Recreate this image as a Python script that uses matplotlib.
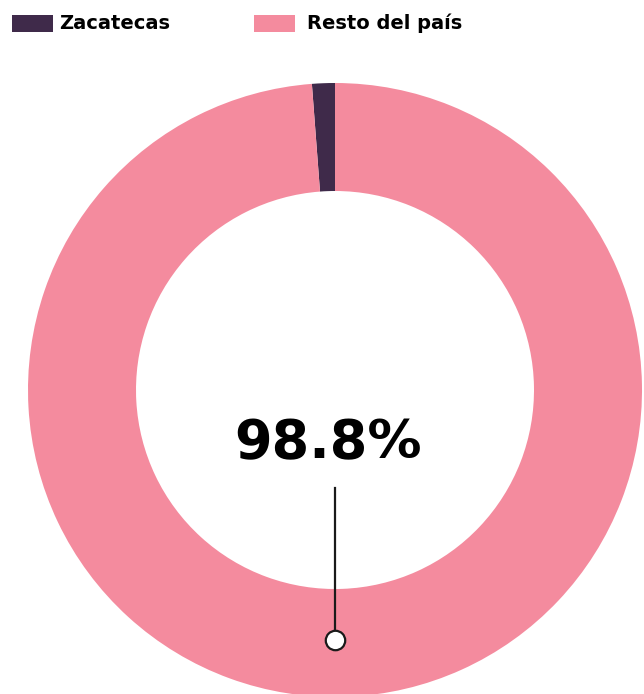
import matplotlib.pyplot as plt
from matplotlib.patches import Rectangle

# Datos
categorias = ["Zacatecas", "Resto del país"]
valores = [1.2, 98.8]
colores = ["#3F2A4A", "#F48B9E"]
etiqueta = "98.8%"

W, H = 644, 694
fig = plt.figure(figsize=(W / 100, H / 100), dpi=100)
ax = fig.add_axes([0, 0, 1, 1])

# Dona (coordenadas en píxeles, y hacia arriba)
ax.pie(valores, colors=colores, startangle=90, counterclock=True,
       center=(335, H - 390), radius=307,
       wedgeprops=dict(width=108, linewidth=0))

ax.set_xlim(0, W)
ax.set_ylim(0, H)
ax.set_aspect("auto")
ax.axis("off")

fuente = ["DejaVu Sans"]

# Etiqueta central y línea
ax.text(328, H - 443, etiqueta, ha="center", va="center", fontsize=39,
        fontweight="bold", family=fuente, color="black")
ax.plot([335, 335], [H - 488, H - 632], color="#1a1a1a", lw=1.6)
ax.plot([335], [H - 640], marker="o", markersize=14, markerfacecolor="white",
        markeredgecolor="#1a1a1a", markeredgewidth=1.6)

# Leyenda
pos_leyenda = [12, 254]
pos_texto = [59, 307]
for x0, xt, cat, col in zip(pos_leyenda, pos_texto, categorias, colores):
    ax.add_patch(Rectangle((x0, H - 32), 41, 17, color=col, lw=0))
    ax.text(xt, H - 23, cat, ha="left", va="center",
            fontsize=14, fontweight="bold", family=fuente, color="black")

fig.savefig("out.png", dpi=100)
